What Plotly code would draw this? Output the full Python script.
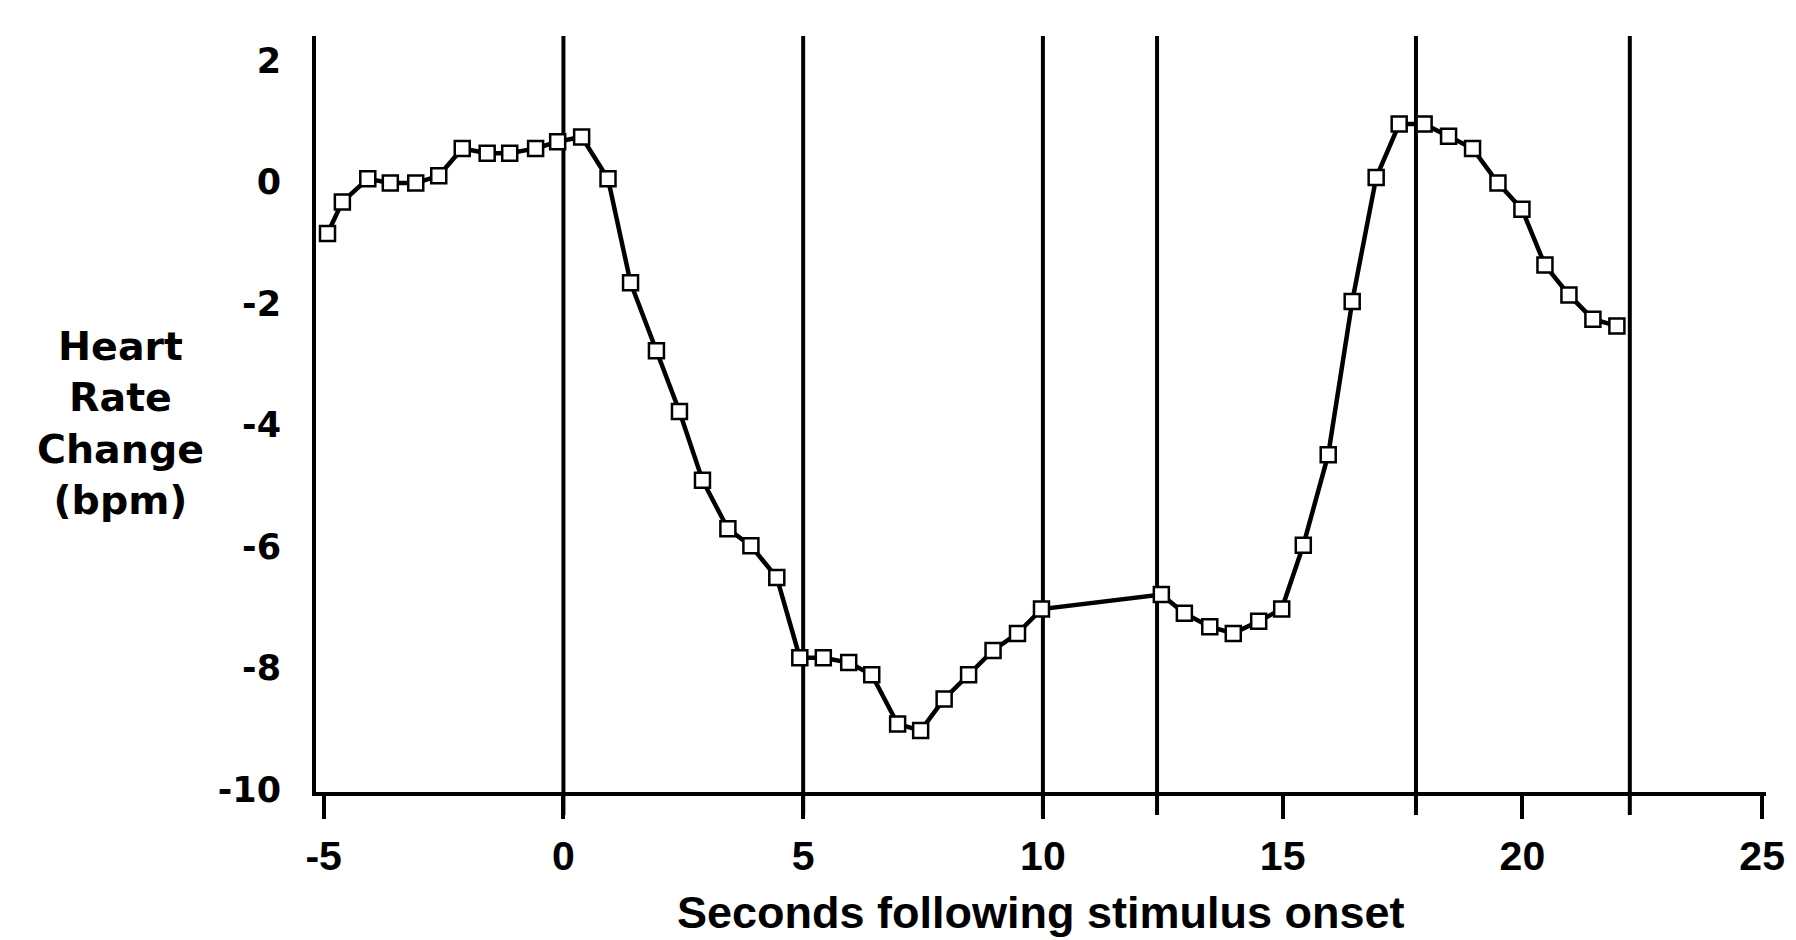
import plotly.graph_objects as go

# Data
seconds = [-4.92, -4.61, -4.08, -3.61, -3.08, -2.60, -2.11, -1.59, -1.12, -0.58,
           -0.12, 0.38, 0.93, 1.40, 1.94, 2.42, 2.90, 3.43, 3.91, 4.45,
           4.93, 5.42, 5.95, 6.43, 6.97, 7.45, 7.94, 8.45, 8.96, 9.47,
           9.97, 12.47, 12.95, 13.48, 13.97, 14.50, 14.98, 15.43, 15.95, 16.45,
           16.95, 17.43, 17.95, 18.46, 18.96, 19.49, 19.99, 20.47, 20.97, 21.47,
           21.97]
hr_change = [-0.85, -0.33, 0.05, -0.02, -0.02, 0.10, 0.55, 0.47, 0.47, 0.55,
             0.66, 0.74, 0.05, -1.66, -2.78, -3.78, -4.91, -5.71, -5.99, -6.51,
             -7.83, -7.83, -7.91, -8.11, -8.92, -9.03, -8.51, -8.11, -7.71, -7.43,
             -7.03, -6.79, -7.10, -7.32, -7.43, -7.23, -7.03, -5.98, -4.49, -1.97,
             0.07, 0.95, 0.95, 0.75, 0.55, -0.02, -0.45, -1.37, -1.86, -2.26,
             -2.37]
event_lines = [0, 5, 10, 12.38, 17.78, 22.24]
x_ticks = [-5, 0, 5, 10, 15, 20, 25]
y_ticks = [-10, -8, -6, -4, -2, 0, 2]

W, H = 1796, 940
L, R, T, B = 316, 30, 36, 148
plot_h = H - T - B
plot_w = W - L - R

fig = go.Figure()
fig.add_trace(go.Scatter(
    x=seconds, y=hr_change, mode="lines+markers",
    line=dict(color="black", width=4.5),
    marker=dict(symbol="square", size=15, color="white",
                line=dict(color="black", width=2.5)),
    showlegend=False, cliponaxis=False,
))

tick_below = 23 / plot_h
for xv in event_lines:
    fig.add_shape(type="line", xref="x", yref="paper", x0=xv, x1=xv,
                  y0=-tick_below, y1=1, line=dict(color="black", width=4),
                  layer="below")

fig.update_layout(
    width=W, height=H,
    margin=dict(l=L, r=R, t=T, b=B, pad=0),
    paper_bgcolor="white", plot_bgcolor="white",
    xaxis=dict(
        range=[-5.16, 25.08], tickvals=x_ticks, ticktext=[str(v) for v in x_ticks],
        showgrid=False, zeroline=False, showline=True, linecolor="black", linewidth=4,
        ticks="outside", ticklen=23, tickwidth=4, tickcolor="black",
        tickfont=dict(family="Liberation Sans, Arial", size=41, color="black", weight="bold"),
        ticklabelstandoff=2, automargin=False,
    ),
    yaxis=dict(
        range=[-10.04, 2.40], tickvals=y_ticks, ticktext=[str(v) for v in y_ticks],
        showgrid=False, zeroline=False, showline=True, linecolor="black", linewidth=4,
        ticks="", ticklabelstandoff=24, automargin=False,
        tickfont=dict(family="DejaVu Sans", size=35, color="black", weight="bold"),
    ),
)

fig.add_annotation(
    text="<b>Seconds following stimulus onset</b>",
    xref="paper", yref="paper", x=0.5, y=(792 - 885) / plot_h,
    xanchor="center", yanchor="top", showarrow=False,
    font=dict(family="Liberation Sans, Arial", size=45, color="black"),
)

fig.add_annotation(
    text="<b>Heart<br>Rate<br>Change<br>(bpm)</b>",
    xref="paper", yref="paper", x=(120 - L) / plot_w, y=(792 - 423) / plot_h,
    xanchor="center", yanchor="middle", showarrow=False, align="center",
    font=dict(family="DejaVu Sans", size=39.5, color="black"),
)

fig.write_html("out.html")
